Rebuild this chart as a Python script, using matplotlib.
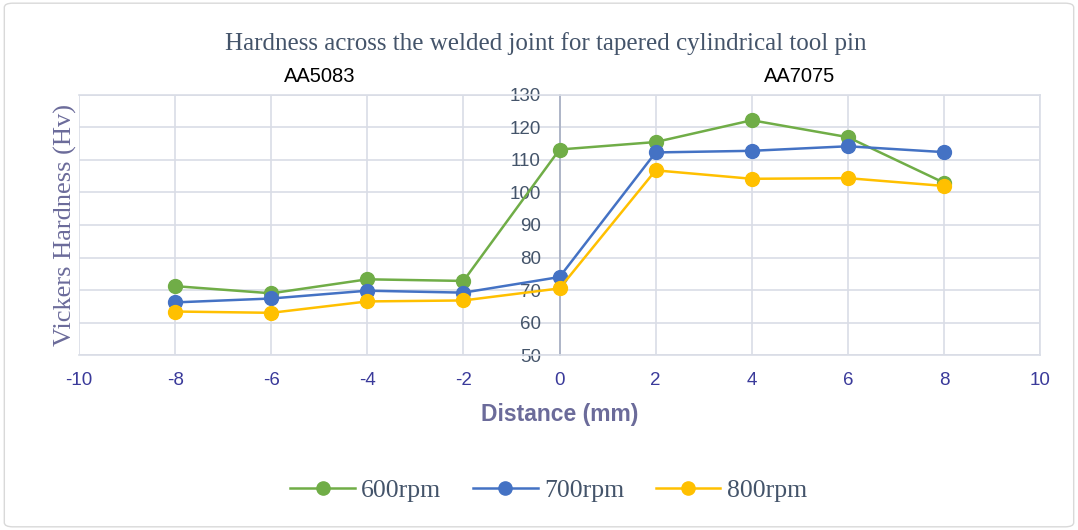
import matplotlib
matplotlib.use("Agg")
import matplotlib.pyplot as plt
from matplotlib.patches import FancyBboxPatch

plt.rcParams["axes.unicode_minus"] = False

distance = [-8, -6, -4, -2, 0, 2, 4, 6, 8]
hv_600 = [71.2, 69.0, 73.3, 72.8, 113.2, 115.5, 122.2, 117.0, 103.0]
hv_700 = [66.2, 67.4, 69.8, 69.2, 74.0, 112.3, 112.8, 114.2, 112.4]
hv_800 = [63.4, 63.0, 66.5, 66.8, 70.5, 106.8, 104.2, 104.4, 102.0]
series_labels = ["600rpm", "700rpm", "800rpm"]
colors = ["#70AD47", "#4472C4", "#FFC000"]
xticks = [-10, -8, -6, -4, -2, 0, 2, 4, 6, 8, 10]
yticks = [50, 60, 70, 80, 90, 100, 110, 120, 130]

fig = plt.figure(figsize=(10.78, 5.30), dpi=100)
border = FancyBboxPatch((0.004, 0.006), 0.992, 0.988, boxstyle="round,pad=0,rounding_size=0.008",
                        transform=fig.transFigure, fill=False, edgecolor="#D9D9D9", linewidth=1.0)
fig.patches.append(border)

ax = fig.add_axes([0.0733, 0.330, 0.8915, 0.491])
for vals, lab, c in zip([hv_600, hv_700, hv_800], series_labels, colors):
    ax.plot(distance, vals, color=c, linewidth=1.8, marker="o", markersize=10,
            markeredgecolor=c, label=lab, zorder=3)

ax.set_xlim(-10, 10)
ax.set_ylim(50, 130)
ax.set_xticks(xticks)
ax.set_yticks(yticks)
ax.grid(True, color="#D9DDE6", linewidth=1.2, zorder=0)
for s in ax.spines.values():
    s.set_color("#D9DDE6")
    s.set_linewidth(1.2)
ax.spines["left"].set_position(("data", 0))
ax.spines["left"].set_color("#A6AEC2")
ax.tick_params(axis="both", length=0)
ax.tick_params(axis="y", pad=13.5, labelsize=13.5, labelcolor="#44546A")
ax.tick_params(axis="x", pad=12, labelsize=13.5, labelcolor="#3A3A9A")
for t in ax.get_yticklabels():
    t.set_fontfamily("Liberation Sans")
for t in ax.get_xticklabels():
    t.set_fontfamily("Liberation Sans")

ax.set_xlabel("Distance (mm)", fontsize=16.5, fontweight="bold", color="#6B6B9A",
              family="Liberation Sans", labelpad=10)
fig.text(0.061, 0.575, "Vickers Hardness (Hv)", rotation=90, ha="center", va="center",
         fontsize=19, color="#6B6B9A", family="Liberation Serif")

fig.text(0.506, 0.918, "Hardness across the welded joint for tapered cylindrical tool pin",
         ha="center", va="center", fontsize=18, color="#44546A", family="Liberation Serif")
ax.text(-5, 1.035, "AA5083", transform=ax.get_xaxis_transform(), ha="center", va="bottom",
        fontsize=14.5, color="#000000", family="Liberation Sans")
ax.text(5, 1.035, "AA7075", transform=ax.get_xaxis_transform(), ha="center", va="bottom",
        fontsize=14.5, color="#000000", family="Liberation Sans")

leg = fig.legend(loc="center", bbox_to_anchor=(0.509, 0.075), ncol=3, frameon=False,
                 prop={"family": "Liberation Serif", "size": 18.5}, handlelength=2.5,
                 columnspacing=1.25, handletextpad=0.25, markerscale=0.95)
for t in leg.get_texts():
    t.set_color("#44546A")

fig.savefig("out.png", dpi=100)
